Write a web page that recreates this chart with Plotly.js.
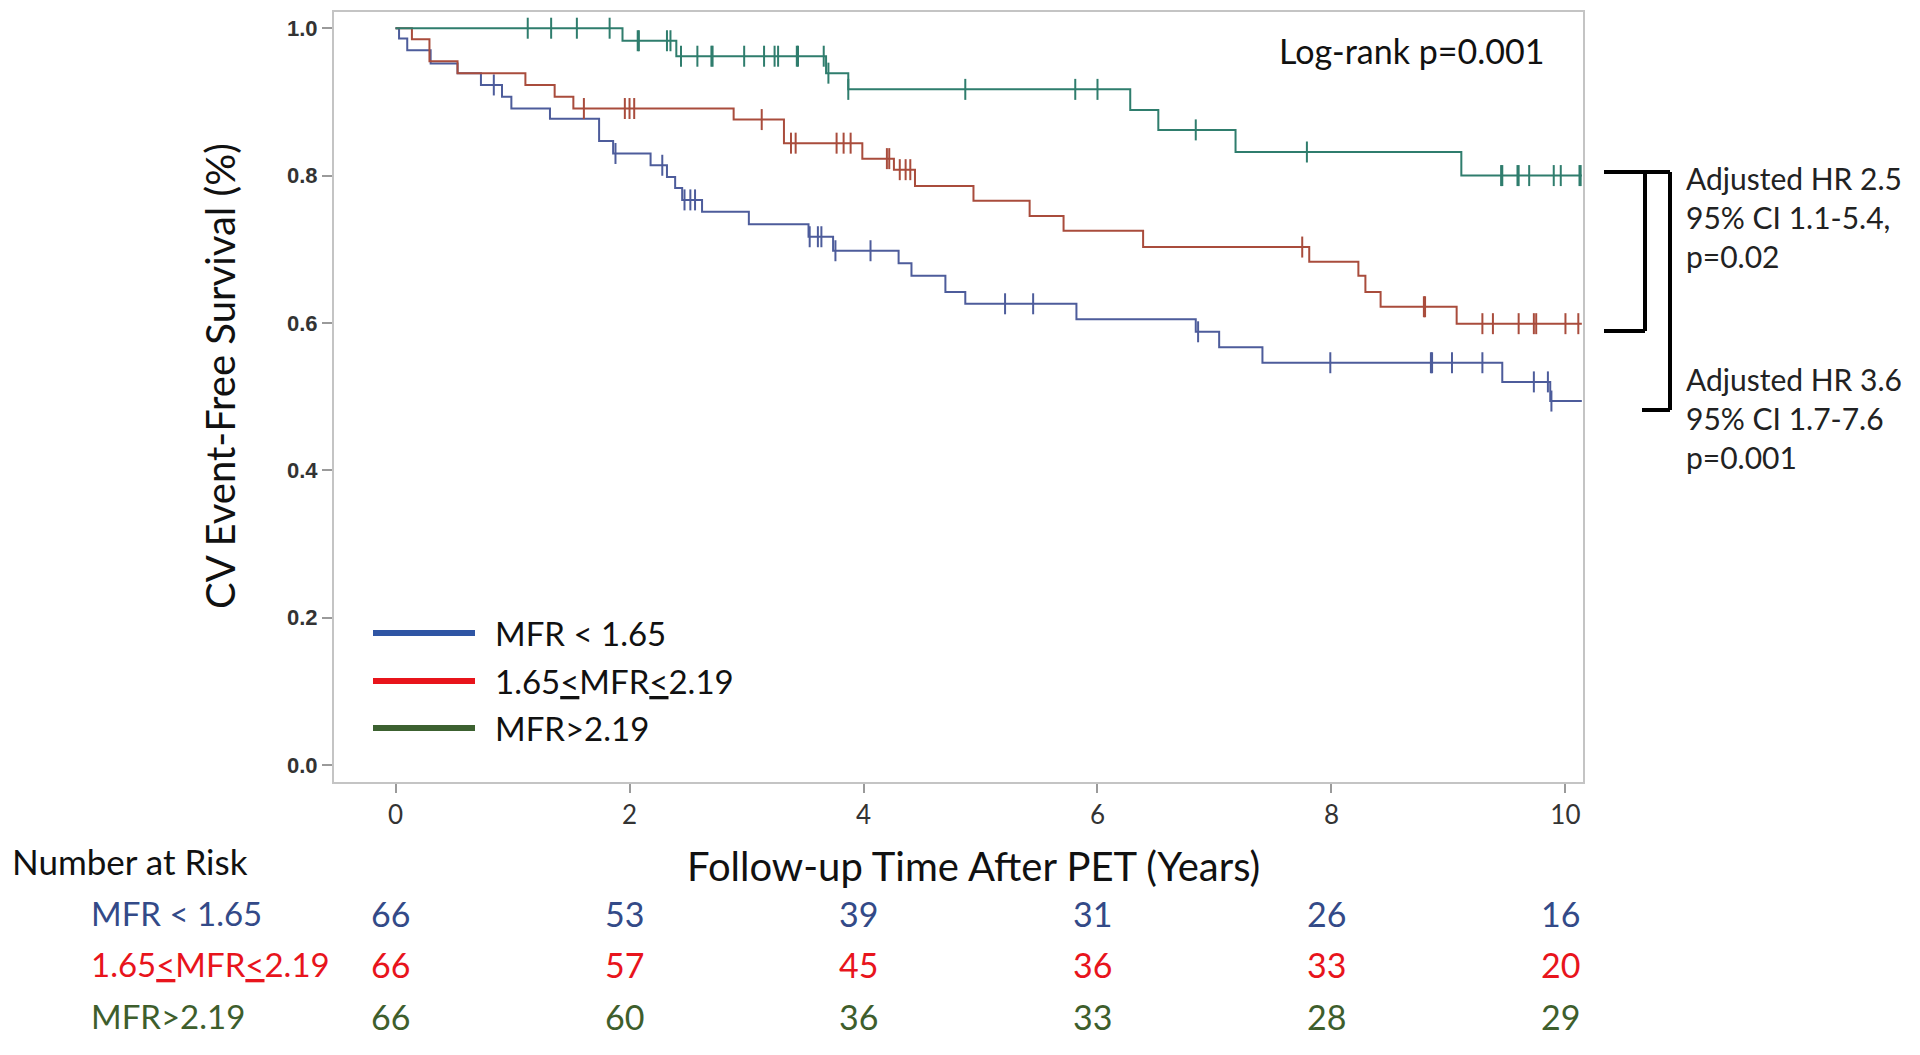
<!DOCTYPE html>
<html>
<head>
<meta charset="utf-8">
<script src="https://cdn.plot.ly/plotly-3.0.1.min.js"></script>
<style>
  body { margin: 0; background: #fff; }
  #km { width: 1920px; height: 1055px; }
</style>
</head>
<body>
<div id="km"></div>
<script>
// Kaplan-Meier steps (time in years, survival fraction)
let timesLow = [0, 0.03, 0.10, 0.30, 0.53, 0.73, 0.91, 0.99, 1.32, 1.74, 1.86, 2.18, 2.32, 2.39, 2.45, 2.62,
                3.02, 3.53, 3.74, 4.30, 4.41, 4.70, 4.87, 5.82, 6.84, 7.04, 7.41, 9.46, 9.87, 10.14];
let survLow  = [1.0, 0.986, 0.970, 0.952, 0.939, 0.923, 0.907, 0.891, 0.877, 0.847, 0.830, 0.814, 0.798, 0.783, 0.767, 0.751,
                0.734, 0.717, 0.698, 0.681, 0.664, 0.642, 0.626, 0.605, 0.588, 0.567, 0.546, 0.520, 0.494, 0.494];
let censLow  = [0.84, 1.88, 2.28, 2.47, 2.52, 2.56, 3.54, 3.61, 3.64, 3.76, 4.06, 5.21, 5.45, 6.86, 7.99,
                8.85, 8.86, 9.03, 9.29, 9.73, 9.85, 9.88];

let timesMid = [0, 0.14, 0.29, 0.53, 1.11, 1.36, 1.52, 2.89, 3.32, 3.99, 4.26, 4.44, 4.94, 5.42, 5.71, 6.39,
                7.81, 8.23, 8.29, 8.42, 9.07, 10.14];
let survMid  = [1.0, 0.985, 0.955, 0.939, 0.923, 0.907, 0.891, 0.876, 0.844, 0.823, 0.808, 0.786, 0.766, 0.745, 0.725, 0.703,
                0.683, 0.664, 0.642, 0.622, 0.599, 0.599];
let censMid  = [1.61, 1.96, 2.00, 2.04, 3.13, 3.38, 3.42, 3.77, 3.83, 3.89, 4.20, 4.22, 4.31, 4.36, 4.40,
                7.75, 8.79, 8.80, 9.29, 9.38, 9.60, 9.73, 9.75, 10.00, 10.11];

let timesHigh = [0, 1.94, 2.40, 3.68, 3.87, 6.28, 6.52, 7.18, 9.11, 10.14];
let survHigh  = [1.0, 0.983, 0.962, 0.939, 0.917, 0.889, 0.862, 0.832, 0.800, 0.800];
let censHigh  = [1.13, 1.33, 1.55, 1.83, 2.07, 2.08, 2.32, 2.35, 2.44, 2.58, 2.70, 2.71, 2.98, 3.15, 3.24, 3.27,
                 3.43, 3.44, 3.66, 3.70, 3.87, 4.87, 5.81, 6.00, 6.84, 7.79, 9.45, 9.46, 9.59, 9.60, 9.69,
                 9.90, 9.96, 10.12, 10.13];

// number at risk table
let riskTimes = [0, 2, 4, 6, 8, 10];
let riskLow   = [66, 53, 39, 31, 26, 16];
let riskMid   = [66, 57, 45, 36, 33, 20];
let riskHigh  = [66, 60, 36, 33, 28, 29];

let groupNames = ['MFR &lt; 1.65', '1.65<u>&lt;</u>MFR<u>&lt;</u>2.19', 'MFR&gt;2.19'];

let curveColors  = ['#4d5c9b', '#a94c3c', '#2f7d6d'];
let legendColors = ['#2f55a4', '#e8141b', '#3c6130'];
let tableColors  = ['#334a88', '#e8141c', '#3e5e2c'];

let FONT = 'Lato, "Open Sans", sans-serif';

// pixel -> paper helpers (plot area is 334..1583 x 12..782)
const px = X => (X - 334) / 1249;
const py = Y => (782 - Y) / 770;

function survAt(times, surv, t) {
  let s = surv[0];
  for (let i = 0; i < times.length; i++) {
    if (times[i] <= t) s = surv[i];
  }
  return s;
}

let groups = [
  {times: timesLow,  surv: survLow,  cens: censLow,  risk: riskLow},
  {times: timesMid,  surv: survMid,  cens: censMid,  risk: riskMid},
  {times: timesHigh, surv: survHigh, cens: censHigh, risk: riskHigh}
];

let traces = [];
groups.forEach(function (g, k) {
  traces.push({
    x: g.times, y: g.surv,
    mode: 'lines', type: 'scatter',
    line: {shape: 'hv', color: curveColors[k], width: 2},
    showlegend: false, hoverinfo: 'skip'
  });
  traces.push({
    x: g.cens,
    y: g.cens.map(t => survAt(g.times, g.surv, t)),
    mode: 'markers', type: 'scatter',
    marker: {symbol: 'line-ns-open', size: 15, color: curveColors[k], line: {width: 2, color: curveColors[k]}},
    showlegend: false, hoverinfo: 'skip'
  });
});

let annotations = [];
let shapes = [];

// axis titles
annotations.push({
  text: 'CV Event-Free Survival (%)', textangle: -90,
  xref: 'paper', yref: 'paper', x: px(220), y: py(376),
  xanchor: 'center', yanchor: 'middle', showarrow: false,
  font: {family: FONT, size: 40, color: '#111'}
});
annotations.push({
  text: 'Follow-up Time After PET (Years)',
  xref: 'paper', yref: 'paper', x: px(973), y: py(866),
  xanchor: 'center', yanchor: 'middle', showarrow: false,
  font: {family: FONT, size: 40, color: '#111'}
});

annotations.push({
  text: 'Log-rank p=0.001',
  xref: 'paper', yref: 'paper', x: px(1546), y: py(51),
  xanchor: 'right', yanchor: 'middle', showarrow: false,
  font: {family: FONT, size: 34, color: '#111'}
});

// hazard ratio notes + brackets
annotations.push({
  text: 'Adjusted HR 2.5<br>95% CI 1.1-5.4,<br>p=0.02', align: 'left',
  xref: 'paper', yref: 'paper', x: px(1684), y: py(217),
  xanchor: 'left', yanchor: 'middle', showarrow: false,
  font: {family: FONT, size: 30, color: '#222'}
});
annotations.push({
  text: 'Adjusted HR 3.6<br>95% CI 1.7-7.6<br>p=0.001', align: 'left',
  xref: 'paper', yref: 'paper', x: px(1684), y: py(418),
  xanchor: 'left', yanchor: 'middle', showarrow: false,
  font: {family: FONT, size: 30, color: '#222'}
});

function seg(x0, y0, x1, y1, color, width) {
  shapes.push({type: 'line', xref: 'paper', yref: 'paper',
    x0: px(x0), y0: py(y0), x1: px(x1), y1: py(y1),
    line: {color: color, width: width}});
}
seg(1604, 172, 1645, 172, '#000', 4);
seg(1645, 172, 1645, 331, '#000', 4);
seg(1604, 331, 1645, 331, '#000', 4);
seg(1645, 172, 1670, 172, '#000', 4);
seg(1670, 172, 1670, 410, '#000', 4);
seg(1642, 410, 1670, 410, '#000', 4);

// legend drawn by hand (long thick keys)
let legendY = [633, 681, 728];
for (let k = 0; k < 3; k++) {
  seg(373, legendY[k], 475, legendY[k], legendColors[k], 6);
  annotations.push({
    text: groupNames[k],
    xref: 'paper', yref: 'paper', x: px(493), y: py(legendY[k]),
    xanchor: 'left', yanchor: 'middle', showarrow: false,
    font: {family: FONT, size: 33, color: '#111'}
  });
}

// number at risk
annotations.push({
  text: 'Number at Risk',
  xref: 'paper', yref: 'paper', x: px(10), y: py(861),
  xanchor: 'left', yanchor: 'middle', showarrow: false,
  font: {family: FONT, size: 35, color: '#111'}
});
let rowY = [913, 964, 1016];
for (let k = 0; k < 3; k++) {
  annotations.push({
    text: groupNames[k],
    xref: 'paper', yref: 'paper', x: px(89), y: py(rowY[k]),
    xanchor: 'left', yanchor: 'middle', showarrow: false,
    font: {family: FONT, size: 33, color: tableColors[k]}
  });
  for (let j = 0; j < riskTimes.length; j++) {
    annotations.push({
      text: String(groups[k].risk[j]),
      xref: 'x', yref: 'paper', x: riskTimes[j], y: py(rowY[k]),
      xanchor: 'center', yanchor: 'middle', showarrow: false, xshift: -5,
      font: {family: FONT, size: 34, color: tableColors[k]}
    });
  }
}

var layout = {
  width: 1920,
  height: 1055,
  margin: {l: 334, r: 337, t: 12, b: 273},
  paper_bgcolor: '#fff',
  plot_bgcolor: '#fff',
  showlegend: false,
  xaxis: {
    range: [-0.526, 10.15],
    tickvals: riskTimes,
    ticks: 'outside', ticklen: 9, tickwidth: 1.5, tickcolor: '#9a9a9a',
    showline: true, mirror: true, linecolor: '#c4c4c4', linewidth: 2,
    showgrid: false, zeroline: false,
    tickfont: {family: FONT, size: 26, color: '#333'}
  },
  yaxis: {
    range: [-0.023, 1.022],
    tickvals: [0, 0.2, 0.4, 0.6, 0.8, 1.0],
    ticktext: ['0.0', '0.2', '0.4', '0.6', '0.8', '1.0'],
    ticks: 'outside', ticklen: 10, tickwidth: 1.5, tickcolor: '#9a9a9a',
    showline: true, mirror: true, linecolor: '#c4c4c4', linewidth: 2,
    showgrid: false, zeroline: false,
    tickfont: {family: '"Liberation Sans", Arial, sans-serif', size: 22, color: '#333', weight: 'bold'}
  },
  annotations: annotations,
  shapes: shapes
};

Plotly.newPlot('km', traces, layout, {displayModeBar: false, responsive: false});
</script>
</body>
</html>
